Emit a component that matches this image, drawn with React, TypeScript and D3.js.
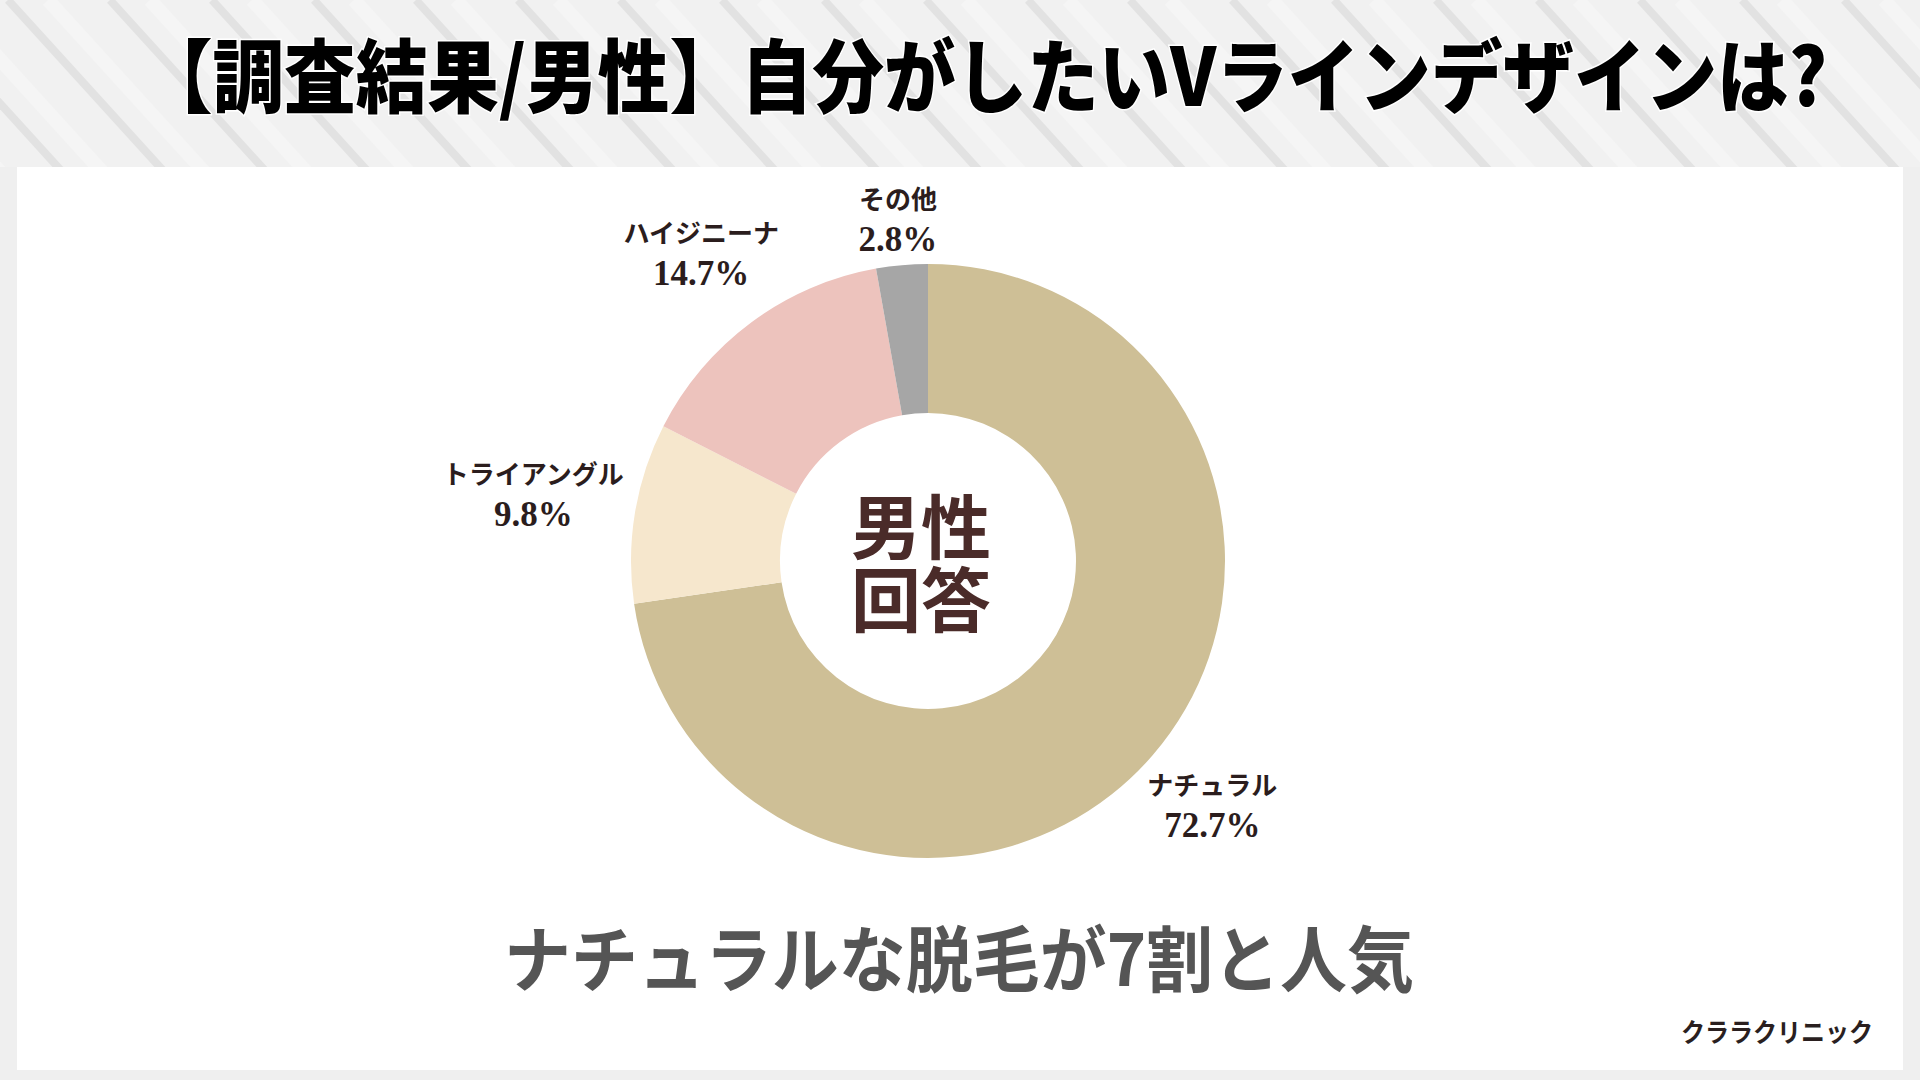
import React from "react";
import * as d3 from "d3";

const categories = ["ナチュラル", "トライアングル", "ハイジニーナ", "その他"];
const values = [72.7, 9.8, 14.7, 2.8];
const valueLabels = ["72.7%", "9.8%", "14.7%", "2.8%"];
const colors = ["#cebf96", "#f6e7cd", "#edc3bd", "#a6a6a6"];
const labelRadius = [376, 400, 381, 342];

const titleText = "【調査結果/男性】自分がしたいVラインデザインは?";
const centerLines = ["男性", "回答"];
const subtitleText = "ナチュラルな脱毛が7割と人気";
const footerText = "クララクリニック";

const W = 1920;
const H = 1080;
const cx = 928;
const cy = 561;
const outerR = 297;
const innerR = 148;

const JP = "'Noto Sans CJK JP', 'Noto Sans', sans-serif";
const SERIF = "'Liberation Serif', 'DejaVu Serif', serif";

export default function App() {
  const pie = d3
    .pie<number>()
    .sort(null)
    .value((d) => d)
    .startAngle(0)
    .endAngle(Math.PI * 2);
  const arcs = pie(values);
  const arcGen = d3.arc<d3.PieArcDatum<number>>().innerRadius(innerR).outerRadius(outerR);

  // background stripes
  const stripeStep = 102;
  const slope = 1.1;
  const stripeXs = d3.range(-400, W + 200, stripeStep);

  return (
    <div style={{ position: "absolute", left: 0, top: 0, width: W, height: H }}>
      <svg width={W} height={H} viewBox={`0 0 ${W} ${H}`} style={{ display: "block" }}>
        <rect x={0} y={0} width={W} height={H} fill="#f1f1f1" />
        <g>
          {stripeXs.map((x, i) => (
            <g key={i}>
              <line
                x1={x + 40}
                y1={0}
                x2={x + 40 + 200 / slope}
                y2={200}
                stroke="#f5f5f5"
                strokeWidth={14}
              />
              <line
                x1={x}
                y1={0}
                x2={x + 200 / slope}
                y2={200}
                stroke="#e2e2e2"
                strokeWidth={8}
              />
            </g>
          ))}
        </g>
        <rect x={0} y={167} width={W} height={H - 167} fill="#efefef" />
        <rect x={17} y={167} width={1886} height={903} fill="#ffffff" />

        <text
          x={984}
          y={71}
          textAnchor="middle"
          dominantBaseline="central"
          fontFamily={JP}
          fontWeight={900}
          fontSize={80}
          fill="#000000"
          textLength={1686}
          lengthAdjust="spacingAndGlyphs"
          stroke="#ffffff"
          strokeWidth={3}
          paintOrder="stroke"
        >
          {titleText}
        </text>

        <g transform={`translate(${cx},${cy})`}>
          {arcs.map((a, i) => (
            <path key={i} d={arcGen(a) || ""} fill={colors[i]} />
          ))}
          {arcs.map((a, i) => {
            const mid = (a.startAngle + a.endAngle) / 2;
            const r = labelRadius[i];
            const lx = r * Math.sin(mid);
            const ly = -r * Math.cos(mid);
            return (
              <g key={"l" + i} transform={`translate(${lx},${ly})`}>
                <text
                  x={0}
                  y={-23}
                  textAnchor="middle"
                  dominantBaseline="central"
                  fontFamily={JP}
                  fontWeight={700}
                  fontSize={26}
                  fill="#2b1d1d"
                >
                  {categories[i]}
                </text>
                <text
                  x={0}
                  y={19}
                  textAnchor="middle"
                  dominantBaseline="central"
                  fontFamily={SERIF}
                  fontWeight={700}
                  fontSize={35}
                  fill="#2b1d1d"
                >
                  {valueLabels[i]}
                </text>
              </g>
            );
          })}
          {centerLines.map((t, i) => (
            <text
              key={"c" + i}
              x={-7}
              y={-38 + i * 73}
              textAnchor="middle"
              dominantBaseline="central"
              fontFamily={JP}
              fontWeight={700}
              fontSize={70}
              fill="#4a2b29"
            >
              {t}
            </text>
          ))}
        </g>

        <text
          x={959}
          y={954}
          textAnchor="middle"
          dominantBaseline="central"
          fontFamily={JP}
          fontWeight={700}
          fontSize={72}
          fill="#555555"
          textLength={910}
          lengthAdjust="spacingAndGlyphs"
        >
          {subtitleText}
        </text>

        <text
          x={1873}
          y={1030}
          textAnchor="end"
          dominantBaseline="central"
          fontFamily={JP}
          fontWeight={700}
          fontSize={26}
          fill="#2a1f1f"
          textLength={192}
          lengthAdjust="spacingAndGlyphs"
        >
          {footerText}
        </text>
      </svg>
    </div>
  );
}
